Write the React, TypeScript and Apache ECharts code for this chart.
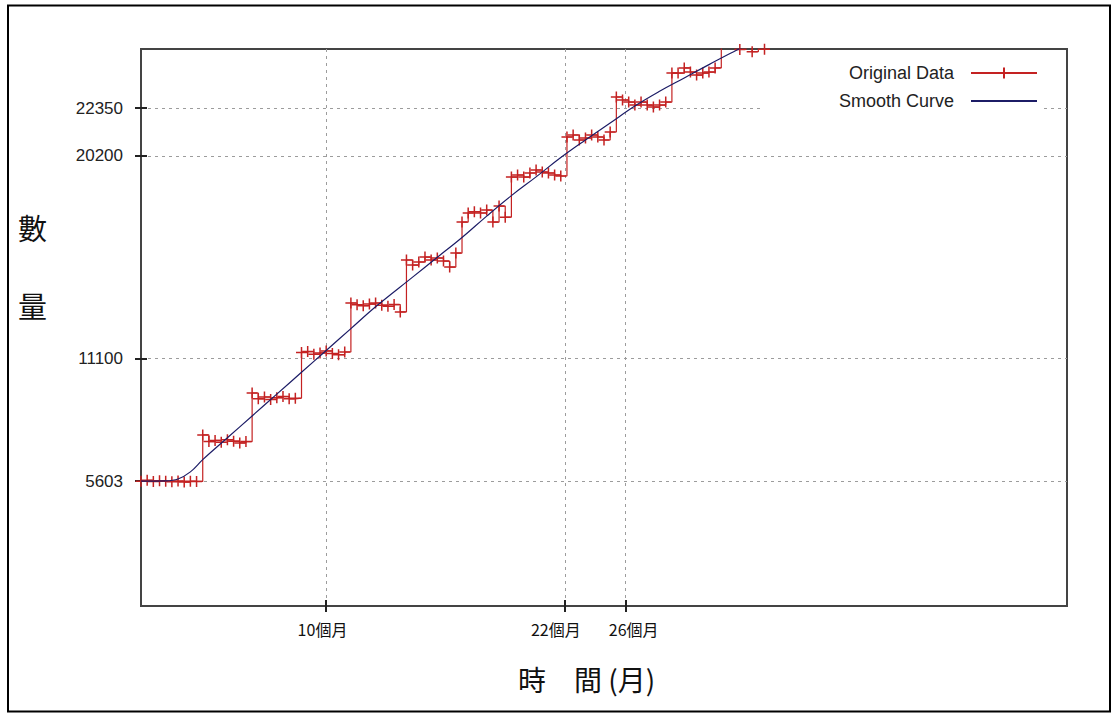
import React, { useEffect, useRef } from 'react';
import * as echarts from 'echarts';

// Original data: one value per sample index (0, 1, 2, ...)
const sampleValues = [
  // plateau 1
  5603, 5640, 5590, 5620, 5600, 5580, 5610, 5560, 5600, 5590,
  // plateau 2
  7680, 7380, 7430, 7350, 7460, 7400, 7320, 7380,
  // plateau 3
  9560, 9300, 9380, 9270, 9350, 9400, 9300, 9330,
  // plateau 4
  11380, 11420, 11300, 11360, 11450, 11330, 11280, 11400,
  // plateau 5
  13600, 13520, 13480, 13550, 13600, 13500, 13450, 13530, 13200,
  // plateau 6
  15530, 15300, 15440, 15660, 15530, 15620, 15480, 15210, 15840,
  // plateau 7
  17230, 17640, 17700, 17640, 17770, 17230, 17950, 17450,
  // plateau 8
  19250, 19345, 19250, 19435, 19570, 19480, 19435, 19345, 19300,
  // plateau 9
  21050, 21140, 20915, 21005, 21140, 21050, 20915, 21275,
  // plateau 10
  22845, 22710, 22620, 22485, 22620, 22485, 22395, 22485, 22620,
  // plateau 11
  23920, 23920, 24150, 23965, 23830, 23920, 23965, 24150,
  // last samples (partly above the plotted range)
  25350, 25280, 25200, 24980, 25150, 24880, 25120, 24990,
];

const smoothIndex = [0, 4, 6, 8, 10, 14, 18, 22, 26, 30, 34, 38, 44, 48, 52, 56, 60, 64, 68, 72, 76, 80, 84, 88, 92, 96, 100];
const smoothValues = [5603, 5615, 5700, 6020, 6570, 7550, 8530, 9510, 10490, 11470, 12450, 13430, 14762, 15650, 16538, 17500, 18420, 19260, 20130, 20920, 21680, 22440, 23100, 23700, 24300, 24880, 25450];

const xRange = [0, 150];
const yRange = [0, 25000];
const xTickValues = [30, 68.7, 78.5];
const xLabelValues = [29.4, 67.2, 79.8];
const xLabelTexts = ['10個月', '22個月', '26個月'];
const yTickValues = [5603, 11100, 20200, 22350];
const seriesNames = ['Original Data', 'Smooth Curve'];
const xTitle = '時　間 (月)';
const yTitleChars = ['數', '量'];

const RED = '#c42222';
const NAVY = '#1c1c66';
const CJK = '"Noto Sans CJK TC", "Noto Sans CJK SC", sans-serif';
const SANS = '"Liberation Sans", Arial, sans-serif';

export default function App() {
  const ref = useRef<HTMLDivElement>(null);

  useEffect(() => {
    if (!ref.current) return;
    const chart = echarts.init(ref.current, null, { renderer: 'svg' });
    const origData = sampleValues.map((v, i) => [i, v]);
    const smoothData = smoothIndex.map((x, k) => [x, smoothValues[k]]);
    const plus = 'path://M0,5L10,5M5,0L5,10';

    const tickStyle = { color: '#222', width: 2 };
    const gridLine = { show: true, lineStyle: { color: '#9c9c9c', width: 1, type: [3, 4] } };

    const legendText = {
      fontSize: 18,
      fontFamily: SANS,
      color: '#222',
      padding: [0, 12, 0, 0],
    };

    const option: any = {
      animation: false,
      backgroundColor: '#ffffff',
      grid: {
        left: 141,
        top: 49,
        right: 50,
        bottom: 113,
        show: true,
        borderColor: '#444',
        borderWidth: 2,
        backgroundColor: 'transparent',
        containLabel: false,
        outerBoundsMode: 'none',
      },
      xAxis: [
        {
          type: 'value',
          min: xRange[0],
          max: xRange[1],
          position: 'bottom',
          axisLine: { show: false },
          axisTick: { show: true, inside: true, length: 6, customValues: xTickValues, lineStyle: tickStyle },
          axisLabel: {
            customValues: xLabelValues,
            margin: 15,
            fontSize: 16,
            fontFamily: CJK,
            color: '#111',
            formatter: (v: number) => {
              const k = xLabelValues.findIndex((t) => Math.abs(t - v) < 1e-6);
              return k >= 0 ? xLabelTexts[k] : '';
            },
          },
          splitLine: gridLine,
        },
        {
          type: 'value',
          min: xRange[0],
          max: xRange[1],
          position: 'top',
          axisLine: { show: false },
          axisTick: { show: true, inside: true, length: 6, customValues: xTickValues, lineStyle: tickStyle },
          axisLabel: { show: false },
          splitLine: { show: false },
        },
      ],
      yAxis: [
        {
          type: 'value',
          min: yRange[0],
          max: yRange[1],
          position: 'left',
          axisLine: { show: false },
          axisTick: { show: true, inside: true, length: 6, customValues: yTickValues, lineStyle: tickStyle },
          axisLabel: {
            customValues: yTickValues,
            margin: 18,
            fontSize: 17,
            fontFamily: SANS,
            color: '#222',
            formatter: (v: number) => String(v),
          },
          splitLine: gridLine,
        },
        {
          type: 'value',
          min: yRange[0],
          max: yRange[1],
          position: 'right',
          axisLine: { show: false },
          axisTick: { show: true, inside: true, length: 6, customValues: yTickValues, lineStyle: tickStyle },
          axisLabel: { show: false },
          splitLine: { show: false },
        },
      ],
      legend: [
        {
          data: [seriesNames[0]],
          orient: 'vertical',
          align: 'right',
          right: 79,
          top: 64,
          padding: 0,
          itemWidth: 66,
          itemHeight: 14,
          selectedMode: false,
          textStyle: legendText,
        },
        {
          data: [seriesNames[1]],
          orient: 'vertical',
          align: 'right',
          right: 75,
          top: 87,
          padding: [5, 4, 8, 75],
          backgroundColor: '#ffffff',
          itemWidth: 66,
          itemHeight: 14,
          selectedMode: false,
          textStyle: legendText,
        },
      ],
      series: [
        {
          name: seriesNames[0],
          type: 'line',
          xAxisIndex: 0,
          yAxisIndex: 0,
          data: origData,
          step: 'end',
          symbol: plus,
          symbolSize: 11,
          showAllSymbol: true,
          clip: true,
          itemStyle: { color: RED, borderColor: RED, borderWidth: 1.5 },
          lineStyle: { color: RED, width: 1.2 },
          z: 3,
        },
        {
          name: seriesNames[1],
          type: 'line',
          xAxisIndex: 0,
          yAxisIndex: 0,
          data: smoothData,
          smooth: 0.4,
          symbol: 'circle',
          symbolSize: 6,
          showSymbol: false,
          clip: true,
          itemStyle: { color: 'transparent', borderColor: 'transparent', borderWidth: 0 },
          lineStyle: { color: NAVY, width: 1.2 },
          z: 4,
        },
      ],
      graphic: [
        {
          type: 'rect',
          silent: true,
          shape: { x: 8, y: 5.5, width: 1102, height: 706 },
          style: { fill: 'none', stroke: '#000', lineWidth: 2 },
        },
        {
          type: 'text',
          silent: true,
          style: {
            x: 518,
            y: 679,
            text: xTitle,
            font: `28px ${CJK}`,
            fill: '#111',
            align: 'left',
            verticalAlign: 'middle',
          },
        },
        {
          type: 'text',
          silent: true,
          style: {
            x: 18,
            y: 227,
            text: yTitleChars[0],
            font: `29px ${CJK}`,
            fill: '#111',
            align: 'left',
            verticalAlign: 'middle',
          },
        },
        {
          type: 'text',
          silent: true,
          style: {
            x: 18,
            y: 305,
            text: yTitleChars[1],
            font: `29px ${CJK}`,
            fill: '#111',
            align: 'left',
            verticalAlign: 'middle',
          },
        },
      ],
    };

    chart.setOption(option);
    return () => chart.dispose();
  }, []);

  return (
    <div
      ref={ref}
      style={{ position: 'fixed', left: 0, top: 0, width: 1117, height: 719, background: '#fff' }}
    />
  );
}
